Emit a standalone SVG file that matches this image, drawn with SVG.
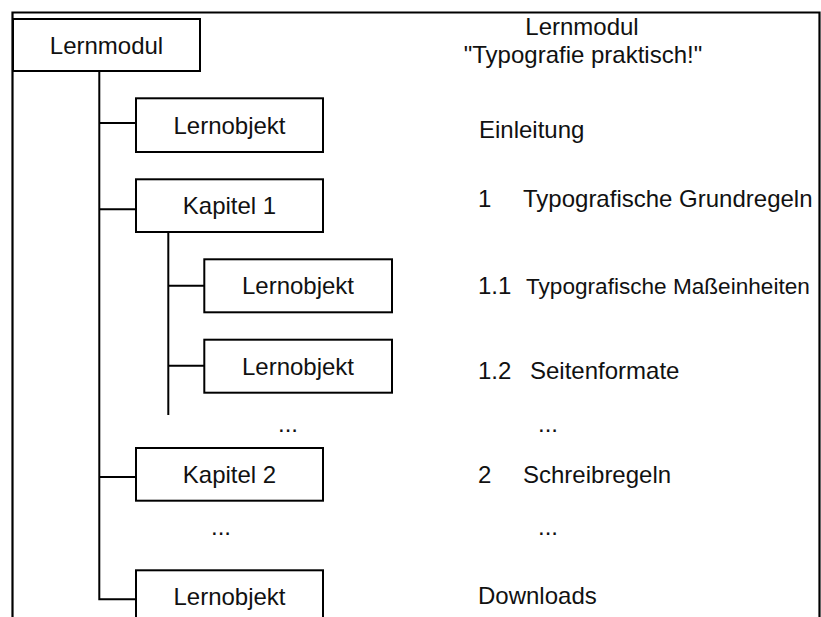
<svg xmlns="http://www.w3.org/2000/svg" width="821" height="617" viewBox="0 0 821 617">
  <style>
    .box { fill: #ffffff; stroke: #000000; stroke-width: 2; }
    .wire { fill: none; stroke: #000000; stroke-width: 2; }
    .frame { fill: none; stroke: #000000; stroke-width: 2.2; }
    text { font-family: "Liberation Sans", Arial, Helvetica, sans-serif; font-size: 24px; fill: #111111; }
    .mid { text-anchor: middle; }
  </style>

  <rect x="0" y="0" width="821" height="617" fill="#ffffff"/>

  <!-- outer frame, open at the bottom -->
  <path class="frame" d="M12.5,617 V12.5 H819.5 V617"/>

  <!-- tree connectors -->
  <g id="connectors">
    <path class="wire" d="M99.3,71 V599.3 H136"/>
    <path class="wire" d="M99.3,123 H136"/>
    <path class="wire" d="M99.3,209.3 H136"/>
    <path class="wire" d="M99.3,477 H136"/>
    <path class="wire" d="M168.3,232 V415"/>
    <path class="wire" d="M168.3,285.7 H204.3"/>
    <path class="wire" d="M168.3,365.7 H204.3"/>
  </g>

  <!-- tree nodes -->
  <g id="node-lernmodul">
    <rect class="box" x="13" y="19" width="187" height="52"/>
    <text class="mid" x="106.5" y="54">Lernmodul</text>
  </g>
  <g id="node-lernobjekt-einleitung">
    <rect class="box" x="136" y="98.3" width="187" height="53.7"/>
    <text class="mid" x="229.5" y="134">Lernobjekt</text>
  </g>
  <g id="node-kapitel-1">
    <rect class="box" x="136" y="179.3" width="187" height="52.7"/>
    <text class="mid" x="229.5" y="214">Kapitel 1</text>
  </g>
  <g id="node-lernobjekt-1-1">
    <rect class="box" x="204.3" y="259.3" width="187.7" height="53"/>
    <text class="mid" x="298" y="294">Lernobjekt</text>
  </g>
  <g id="node-lernobjekt-1-2">
    <rect class="box" x="204.3" y="339.7" width="187.7" height="53"/>
    <text class="mid" x="298" y="374.5">Lernobjekt</text>
  </g>
  <g id="node-kapitel-2">
    <rect class="box" x="136" y="448" width="187" height="52.7"/>
    <text class="mid" x="229.5" y="483">Kapitel 2</text>
  </g>
  <g id="node-lernobjekt-downloads">
    <rect class="box" x="136" y="570.3" width="187" height="60"/>
    <text class="mid" x="229.5" y="605">Lernobjekt</text>
  </g>

  <!-- omissions in the tree -->
  <text class="mid" x="288" y="432">...</text>
  <text class="mid" x="221" y="535">...</text>

  <!-- table of contents -->
  <g id="toc">
    <text class="mid" x="582" y="35">Lernmodul</text>
    <text class="mid" x="583" y="63">"Typografie praktisch!"</text>
    <text x="479" y="138">Einleitung</text>
    <text x="478" y="207">1</text>
    <text x="523" y="207">Typografische Grundregeln</text>
    <text x="478" y="294">1.1</text>
    <text x="526" y="294" style="font-size:22.6px">Typografische Maßeinheiten</text>
    <text x="478" y="379">1.2</text>
    <text x="530" y="379">Seitenformate</text>
    <text x="538" y="432">...</text>
    <text x="478" y="483">2</text>
    <text x="523" y="483">Schreibregeln</text>
    <text x="538" y="535">...</text>
    <text x="478" y="604">Downloads</text>
  </g>
</svg>
